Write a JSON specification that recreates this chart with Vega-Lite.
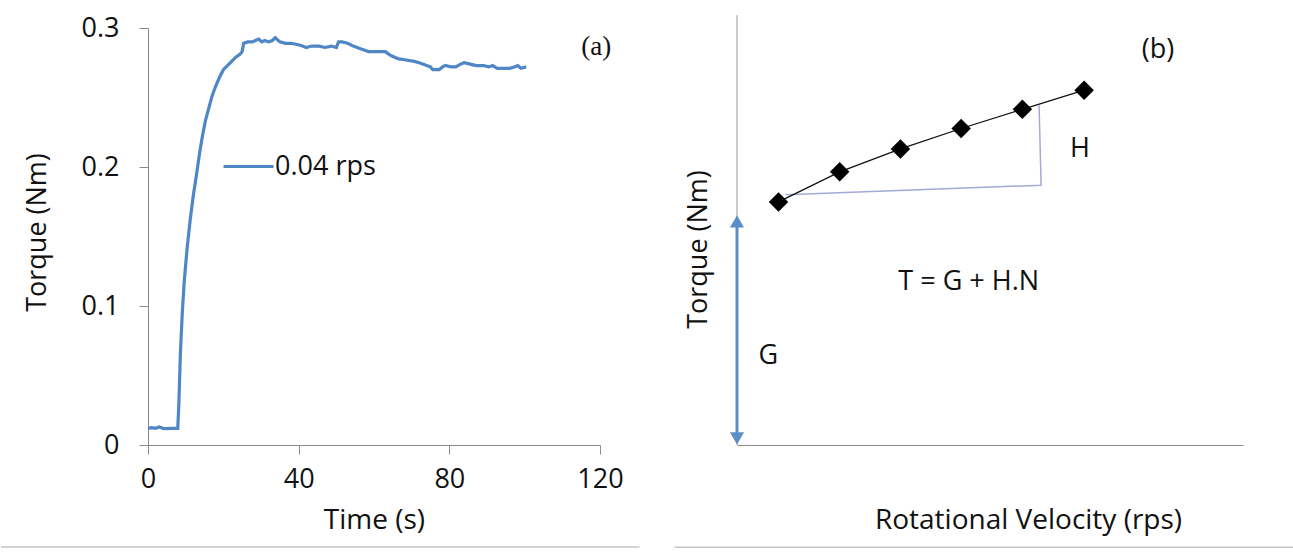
{
  "$schema": "https://vega.github.io/schema/vega-lite/v6.json",
  "autosize": {"type": "pad"},
  "padding": {"left": 0, "top": 14, "right": 0, "bottom": 4},
  "background": "white",
  "config": {
    "view": {"stroke": null},
    "font": "Open Sans",
    "axis": {"grid": false, "domainColor": "#8a8a8a", "tickColor": "#8a8a8a", "labelColor": "#111111", "titleColor": "#111111", "titleFontWeight": "normal", "labelFontSize": 27, "titleFontSize": 27, "labelFont": "Open Sans", "titleFont": "Open Sans"}
  },
  "spacing": 33,
  "hconcat": [
    {
      "width": 452,
      "height": 417,
      "data": {"values": [
        {"t": 0, "v": 0.012}, {"t": 1, "v": 0.0125}, {"t": 2, "v": 0.012}, {"t": 3, "v": 0.013}, {"t": 4, "v": 0.012},
        {"t": 5, "v": 0.0118}, {"t": 6, "v": 0.012}, {"t": 7, "v": 0.012}, {"t": 7.9, "v": 0.012}, {"t": 8.2, "v": 0.03},
        {"t": 8.6, "v": 0.066}, {"t": 9.1, "v": 0.095}, {"t": 9.6, "v": 0.117}, {"t": 10.4, "v": 0.142}, {"t": 11.2, "v": 0.162},
        {"t": 12.0, "v": 0.179}, {"t": 12.9, "v": 0.195}, {"t": 13.7, "v": 0.21}, {"t": 14.5, "v": 0.223}, {"t": 15.3, "v": 0.234},
        {"t": 16.2, "v": 0.243}, {"t": 17.0, "v": 0.251}, {"t": 17.8, "v": 0.257}, {"t": 18.9, "v": 0.264}, {"t": 20.0, "v": 0.27},
        {"t": 21.1, "v": 0.273}, {"t": 22.2, "v": 0.276}, {"t": 23.3, "v": 0.279}, {"t": 24.4, "v": 0.281}, {"t": 25.0, "v": 0.283},
        {"t": 25.4, "v": 0.289}, {"t": 26.5, "v": 0.29}, {"t": 27.7, "v": 0.29}, {"t": 28.5, "v": 0.291}, {"t": 29.4, "v": 0.292},
        {"t": 30.2, "v": 0.29}, {"t": 31.0, "v": 0.291}, {"t": 32.0, "v": 0.29}, {"t": 33.0, "v": 0.291}, {"t": 33.8, "v": 0.293},
        {"t": 35.0, "v": 0.29}, {"t": 36.5, "v": 0.289}, {"t": 38.0, "v": 0.289}, {"t": 39.9, "v": 0.288}, {"t": 41.0, "v": 0.287},
        {"t": 42.0, "v": 0.286}, {"t": 43.5, "v": 0.287}, {"t": 45.4, "v": 0.287}, {"t": 47.0, "v": 0.286}, {"t": 48.7, "v": 0.287},
        {"t": 50.0, "v": 0.286}, {"t": 50.6, "v": 0.29}, {"t": 51.5, "v": 0.29}, {"t": 53.0, "v": 0.289}, {"t": 54.5, "v": 0.287},
        {"t": 56.4, "v": 0.285}, {"t": 58.6, "v": 0.283}, {"t": 60.5, "v": 0.283}, {"t": 63.0, "v": 0.283}, {"t": 64.0, "v": 0.281},
        {"t": 64.6, "v": 0.28}, {"t": 66.3, "v": 0.278}, {"t": 68.5, "v": 0.277}, {"t": 70.7, "v": 0.276}, {"t": 72.0, "v": 0.275},
        {"t": 74.0, "v": 0.273}, {"t": 75.0, "v": 0.272}, {"t": 75.6, "v": 0.27}, {"t": 77.3, "v": 0.27}, {"t": 78.2, "v": 0.272},
        {"t": 78.9, "v": 0.273}, {"t": 80.5, "v": 0.272}, {"t": 81.7, "v": 0.272}, {"t": 83.0, "v": 0.274}, {"t": 83.9, "v": 0.275},
        {"t": 85.5, "v": 0.274}, {"t": 87.2, "v": 0.273}, {"t": 89.0, "v": 0.273}, {"t": 90.5, "v": 0.272}, {"t": 91.5, "v": 0.273},
        {"t": 92.7, "v": 0.271}, {"t": 94.5, "v": 0.271}, {"t": 96.0, "v": 0.271}, {"t": 97.2, "v": 0.272}, {"t": 98.2, "v": 0.273},
        {"t": 99.0, "v": 0.271}, {"t": 100.4, "v": 0.272}
      ]},
      "layer": [
        {
          "mark": {"type": "line", "strokeWidth": 3.2},
          "encoding": {
            "x": {"field": "t", "type": "quantitative", "scale": {"domain": [0, 120], "nice": false},
                  "axis": {"values": [0, 40, 80, 120], "title": "Time (s)", "titleFontSize": 28, "tickSize": 9, "labelPadding": 12, "titleY": 75, "titleBaseline": "middle", "labelFlush": false}},
            "y": {"field": "v", "type": "quantitative", "scale": {"domain": [0, 0.3], "nice": false},
                  "axis": {"values": [0, 0.1, 0.2, 0.3], "format": ".1~f", "title": "Torque (Nm)", "tickSize": 9, "labelPadding": 20, "titleX": -111, "titleY": 204, "titleBaseline": "middle", "labelFlush": false}},
            "color": {"datum": "0.04 rps", "scale": {"range": ["#4f86c6"]},
                      "legend": {"title": null, "orient": "none", "legendX": 74, "legendY": 112, "symbolType": "stroke", "symbolSize": 2500, "symbolStrokeWidth": 3, "labelFontSize": 27, "labelFont": "Open Sans", "labelColor": "#111111", "labelOffset": 0, "padding": 0}}
          }
        },
        {
          "data": {"values": [{}]},
          "mark": {"type": "text", "font": "Liberation Serif", "fontSize": 27, "color": "#111111"},
          "encoding": {"x": {"datum": 119}, "y": {"datum": 0.286}, "text": {"value": "(a)"}}
        },
        {
          "data": {"values": [{}]},
          "mark": {"type": "rule", "color": "#c4c4c4", "strokeWidth": 1.5},
          "encoding": {"x": {"datum": -39}, "x2": {"datum": 130.5}, "y": {"datum": -0.0734}}
        }
      ]
    },
    {
      "width": 506,
      "height": 417,
      "data": {"values": [{}]},
      "layer": [
        {
          "mark": {"type": "rule", "color": "#9a9a9a", "strokeWidth": 1},
          "encoding": {
            "x": {"datum": 0, "type": "quantitative", "scale": {"domain": [0, 10], "nice": false},
                  "axis": {"title": "Rotational Velocity (rps)", "titleFontSize": 28, "ticks": false, "labels": false, "domain": true, "titleX": 291, "titleY": 75, "titleBaseline": "middle"}},
            "y": {"datum": 0, "type": "quantitative", "scale": {"domain": [0, 1], "nice": false},
                  "axis": {"title": "Torque (Nm)", "ticks": false, "labels": false, "domain": false, "titleX": -39, "titleY": 221, "titleBaseline": "middle"}},
            "y2": {"datum": 1.031}
          }
        },
        {
          "mark": {"type": "rule", "color": "#c4c4c4", "strokeWidth": 1.5},
          "encoding": {"x": {"datum": -1.23}, "x2": {"datum": 10.99}, "y": {"datum": -0.245}}
        },
        {
          "data": {"values": [
            {"n": 0.96, "tq": 0.6, "o": 1},
            {"n": 6.01, "tq": 0.623, "o": 2},
            {"n": 5.97, "tq": 0.815, "o": 3}
          ]},
          "mark": {"type": "line", "color": "#a3aad8", "strokeWidth": 1.5},
          "encoding": {"x": {"field": "n", "type": "quantitative"}, "y": {"field": "tq", "type": "quantitative"}, "order": {"field": "o"}}
        },
        {
          "data": {"values": [
            {"n": 0.82, "tq": 0.583}, {"n": 2.03, "tq": 0.655}, {"n": 3.23, "tq": 0.71},
            {"n": 4.43, "tq": 0.759}, {"n": 5.64, "tq": 0.805}, {"n": 6.86, "tq": 0.851}
          ]},
          "layer": [
            {"mark": {"type": "line", "color": "#111111", "strokeWidth": 1.3},
             "encoding": {"x": {"field": "n", "type": "quantitative"}, "y": {"field": "tq", "type": "quantitative"}}},
            {"mark": {"type": "point", "shape": "diamond", "filled": true, "color": "#000000", "size": 380, "opacity": 1},
             "encoding": {"x": {"field": "n", "type": "quantitative"}, "y": {"field": "tq", "type": "quantitative"}}}
          ]
        },
        {
          "mark": {"type": "rule", "color": "#5b8fc7", "strokeWidth": 3},
          "encoding": {"x": {"datum": 0}, "y": {"datum": 0.02}, "y2": {"datum": 0.53}}
        },
        {
          "mark": {"type": "point", "shape": "triangle-up", "filled": true, "color": "#5b8fc7", "size": 200, "opacity": 1},
          "encoding": {"x": {"datum": 0}, "y": {"datum": 0.536}}
        },
        {
          "mark": {"type": "point", "shape": "triangle-down", "filled": true, "color": "#5b8fc7", "size": 200, "opacity": 1},
          "encoding": {"x": {"datum": 0}, "y": {"datum": 0.016}}
        },
        {
          "mark": {"type": "text", "font": "Open Sans", "fontSize": 27, "color": "#111111"},
          "encoding": {"x": {"datum": 8.32}, "y": {"datum": 0.947}, "text": {"value": "(b)"}}
        },
        {
          "mark": {"type": "text", "font": "Open Sans", "fontSize": 27, "color": "#111111"},
          "encoding": {"x": {"datum": 6.78}, "y": {"datum": 0.71}, "text": {"value": "H"}}
        },
        {
          "mark": {"type": "text", "font": "Open Sans", "fontSize": 27, "color": "#111111"},
          "encoding": {"x": {"datum": 4.58}, "y": {"datum": 0.39}, "text": {"value": "T = G + H.N"}}
        },
        {
          "mark": {"type": "text", "font": "Open Sans", "fontSize": 27, "color": "#111111"},
          "encoding": {"x": {"datum": 0.62}, "y": {"datum": 0.213}, "text": {"value": "G"}}
        }
      ]
    }
  ]
}
